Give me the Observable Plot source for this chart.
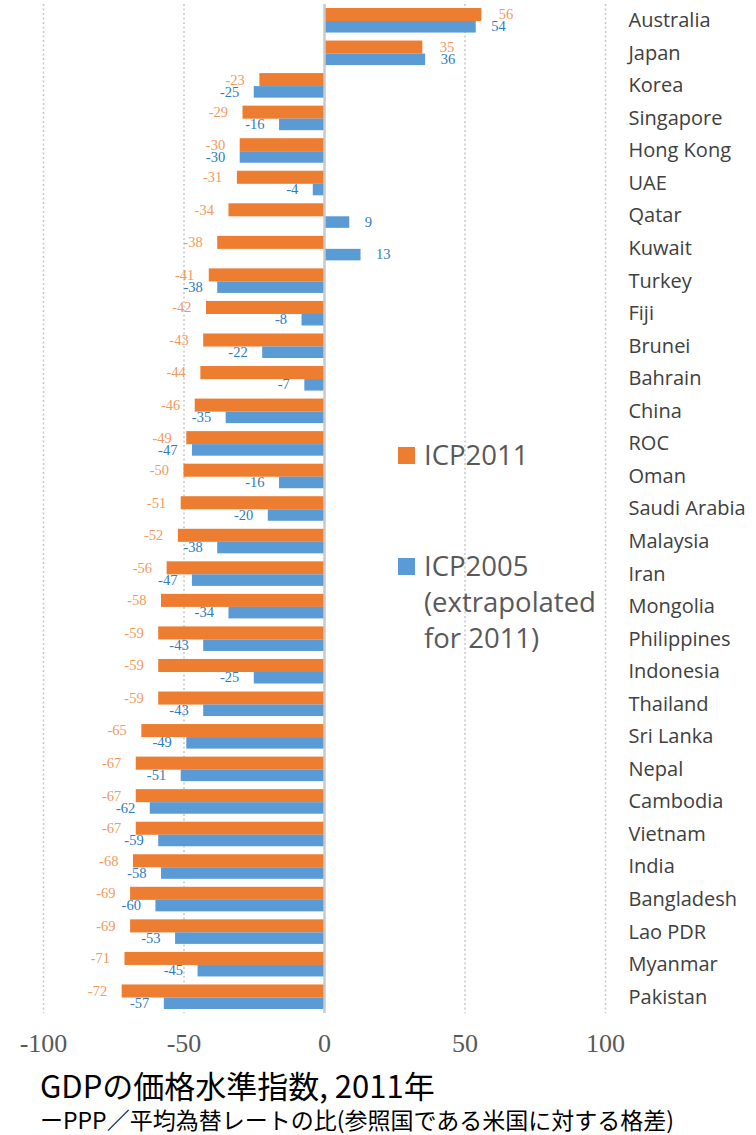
<!DOCTYPE html>
<html>
<head>
<meta charset="utf-8">
<script src="https://cdn.jsdelivr.net/npm/d3@7"></script>
<script src="https://cdn.jsdelivr.net/npm/@observablehq/plot@0.6"></script>
<style>
  body { margin: 0; background: #fff; }
  #wrap { position: relative; width: 756px; height: 1135px; overflow: hidden; }
  .leg { position: absolute; font-family: "Open Sans", sans-serif; font-size: 27.5px; color: #595959; line-height: 36px; }
  .sw { position: absolute; width: 17px; height: 17px; }
  #title { position: absolute; left: 40px; top: 1069px; font-family: "Noto Sans CJK JP", sans-serif; font-size: 31px; line-height: 31px; color: #000; white-space: nowrap; }
  #sub { position: absolute; left: 40px; top: 1108px; font-family: "Noto Sans CJK JP", sans-serif; font-size: 23px; line-height: 23px; color: #000; white-space: nowrap; }
</style>
</head>
<body>
<div id="wrap">
  <div id="chart"></div>
  <div class="sw" style="left:398px; top:447px; background:#ED7D31;"></div>
  <div class="leg" style="left:424px; top:437px;">ICP2011</div>
  <div class="sw" style="left:398px; top:558px; background:#5B9BD5;"></div>
  <div class="leg" style="left:424px; top:548px;">ICP2005<br>(extrapolated<br>for 2011)</div>
  <div id="title">GDPの価格水準指数, 2011年</div>
  <div id="sub">ーPPP／平均為替レートの比(参照国である米国に対する格差)</div>
</div>
<script>
const countries = ["Australia","Japan","Korea","Singapore","Hong Kong","UAE","Qatar","Kuwait","Turkey","Fiji","Brunei","Bahrain","China","ROC","Oman","Saudi Arabia","Malaysia","Iran","Mongolia","Philippines","Indonesia","Thailand","Sri Lanka","Nepal","Cambodia","Vietnam","India","Bangladesh","Lao PDR","Myanmar","Pakistan"];
const icp2011 = [56,35,-23,-29,-30,-31,-34,-38,-41,-42,-43,-44,-46,-49,-50,-51,-52,-56,-58,-59,-59,-59,-65,-67,-67,-67,-68,-69,-69,-71,-72];
const icp2005 = [54,36,-25,-16,-30,-4,9,13,-38,-8,-22,-7,-35,-47,-16,-20,-38,-47,-34,-43,-25,-43,-49,-51,-62,-59,-58,-60,-53,-45,-57];
const xTicks = [-100,-50,0,50,100];
const gridTicks = [-100,-50,50,100];

const a = countries.map((c,i) => ({c, v: icp2011[i]}));
const b = countries.map((c,i) => ({c, v: icp2005[i]}));

const orange = "#ED7D31", blue = "#5B9BD5";
const orangeTxt = "#F29A5E", blueTxt = "#2E7BC0";
const lblFont = {fontFamily: "Liberation Serif, serif", fontSize: 14.5};

const chart = Plot.plot({
  width: 756,
  height: 1065,
  marginLeft: 43,
  marginRight: 151,
  marginTop: 4,
  marginBottom: 52,
  x: {domain: [-100, 100]},
  y: {domain: countries, padding: 0, round: false},
  marks: [
    Plot.ruleX(gridTicks, {stroke: "#c8c8c8", strokeWidth: 1.5, strokeDasharray: "2,2.5"}),
    Plot.barX(a, {x: "v", y: "c", fill: orange, insetTop: 4, insetBottom: 15.5}),
    Plot.barX(b, {x: "v", y: "c", fill: blue, insetTop: 17, insetBottom: 4}),
    Plot.ruleX([0], {stroke: "#c9c9c9", strokeWidth: 2.5}),
    Plot.text(a.filter(d => d.v < 0), {x: "v", y: "c", text: d => String(d.v), dx: -15, dy: -6, textAnchor: "end", fill: orangeTxt, ...lblFont}),
    Plot.text(a.filter(d => d.v >= 0), {x: "v", y: "c", text: d => String(d.v), dx: 17, dy: -6, textAnchor: "start", fill: orangeTxt, ...lblFont}),
    Plot.text(b.filter(d => d.v < 0), {x: "v", y: "c", text: d => String(d.v), dx: -15, dy: 6, textAnchor: "end", fill: blueTxt, ...lblFont}),
    Plot.text(b.filter(d => d.v >= 0), {x: "v", y: "c", text: d => String(d.v), dx: 15, dy: 6, textAnchor: "start", fill: blueTxt, ...lblFont}),
    Plot.axisY({anchor: "right", tickSize: 0, tickPadding: 23, fontSize: 20, fontFamily: "Open Sans, sans-serif", color: "#404040", label: null}),
    Plot.axisX({ticks: xTicks, tickFormat: d => String(d), tickSize: 0, tickPadding: 20, fontSize: 26, fontFamily: "Liberation Serif, serif", color: "#595959", label: null})
  ]
});
document.getElementById("chart").appendChild(chart);
</script>
</body>
</html>
